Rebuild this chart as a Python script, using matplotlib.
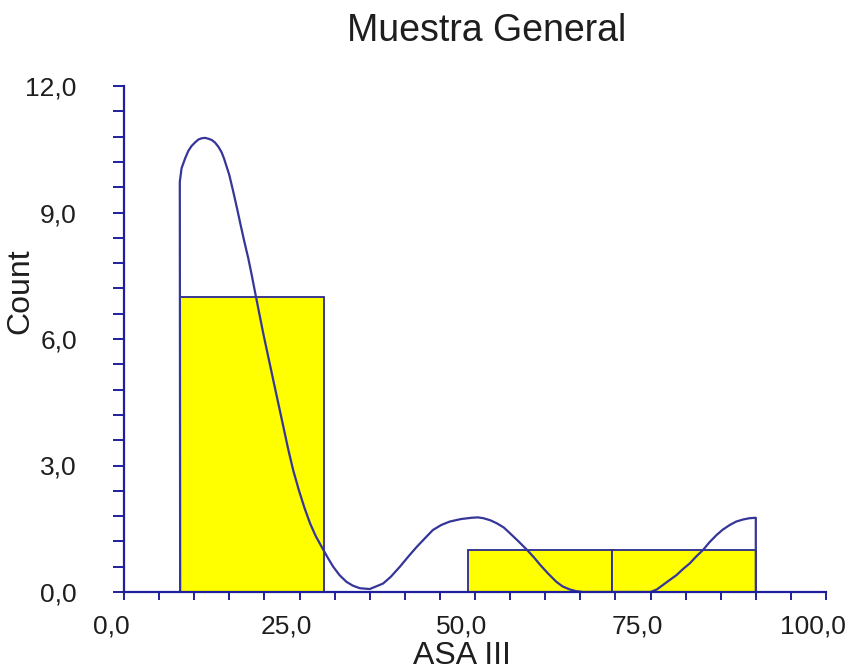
import numpy as np
import matplotlib
matplotlib.use("Agg")
import matplotlib.pyplot as plt
from matplotlib.ticker import MultipleLocator, FuncFormatter
from matplotlib.transforms import ScaledTranslation

plt.rcParams["font.family"] = ["Liberation Sans", "DejaVu Sans"]

# histogram bins (ASA III) and counts
bin_edges = [8.0, 28.5, 49.0, 69.5, 90.0]
counts = [7, 0, 1, 1]

# fitted curve drawn over the histogram (closed down to the axis at both ends)
curve_x = [8.0, 7.95, 8.2, 8.7, 9.16, 9.64, 10.11, 10.59, 11.06, 11.54, 12.01,
           12.49, 12.96, 13.44, 13.9, 14.25, 15.0, 15.57, 16.1, 16.62, 17.14,
           17.71, 18.19, 18.8, 19.84, 21.27, 22.7, 23.4, 24.1, 24.9, 25.7,
           26.5, 27.3, 28.16, 29.0, 29.8, 30.7, 31.7, 32.6, 33.6, 35.0, 36.9,
           38.0, 39.3, 40.5, 41.7, 42.9, 44.0, 45.2, 46.4, 48.0, 49.5, 50.4,
           51.2, 52.2, 53.1, 54.1, 55.0, 56.2, 57.4, 58.4, 59.3, 60.4, 61.6,
           62.5, 63.5, 64.4, 65.4, 75.0, 75.9, 76.8, 77.7, 78.7, 79.6, 80.6,
           81.5, 82.5, 83.4, 84.4, 85.3, 86.3, 87.2, 88.2, 89.1, 90.0, 90.0]
curve_y = [0.0, 9.73, 10.05, 10.28, 10.46, 10.58, 10.66, 10.73, 10.76, 10.77,
           10.75, 10.72, 10.66, 10.56, 10.43, 10.28, 9.89, 9.49, 9.10, 8.70,
           8.31, 7.91, 7.52, 7.0, 6.13, 5.02, 3.92, 3.38, 2.89, 2.42, 2.0,
           1.63, 1.33, 1.07, 0.82, 0.60, 0.40, 0.24, 0.15, 0.09, 0.07, 0.20,
           0.36, 0.60, 0.84, 1.07, 1.28, 1.47, 1.59, 1.67, 1.73, 1.76, 1.77,
           1.75, 1.70, 1.63, 1.53, 1.39, 1.20, 1.0, 0.82, 0.64, 0.44, 0.24,
           0.13, 0.06, 0.02, 0.0, 0.0, 0.06, 0.17, 0.28, 0.40, 0.54, 0.68,
           0.84, 1.0, 1.18, 1.35, 1.48, 1.59, 1.67, 1.72, 1.75, 1.76, 0.0]

axis_col = "#1f1f9c"
line_col = "#35359a"
text_col = "#1e1e1e"

fig = plt.figure(figsize=(8.48, 6.70), dpi=100)
ax = fig.add_axes([124 / 848, 1 - 592 / 670, 702 / 848, 506 / 670])

edges = np.array(bin_edges)
ax.bar(edges[:-1], counts, width=np.diff(edges), align="edge",
       color="#ffff00", edgecolor="#2a2a8e", linewidth=1.3, zorder=2)
ax.plot(curve_x, curve_y, color=line_col, linewidth=1.6, zorder=3,
        solid_joinstyle="round")

ax.set_xlim(0, 100)
ax.set_ylim(0, 12)

for side in ("top", "right"):
    ax.spines[side].set_visible(False)
for side in ("left", "bottom"):
    ax.spines[side].set_color(axis_col)
    ax.spines[side].set_linewidth(1.6)
    ax.spines[side].set_zorder(4)

comma = FuncFormatter(lambda v, pos: f"{v:.1f}".replace(".", ","))
ax.xaxis.set_major_locator(MultipleLocator(25))
ax.xaxis.set_minor_locator(MultipleLocator(5))
ax.yaxis.set_major_locator(MultipleLocator(3))
ax.yaxis.set_minor_locator(MultipleLocator(0.6))
ax.xaxis.set_major_formatter(comma)
ax.yaxis.set_major_formatter(comma)

ax.tick_params(axis="x", which="both", direction="out", length=6, width=1.4,
               color=axis_col, labelsize=19, labelcolor=text_col, pad=10)
ax.tick_params(axis="y", which="both", direction="out", length=8, width=1.4,
               color=axis_col, labelsize=19, labelcolor=text_col, pad=26)

# x labels sit a little to the left of their ticks
shift = ScaledTranslation(-13 / 100, 0, fig.dpi_scale_trans)
for lbl in ax.get_xticklabels():
    lbl.set_transform(lbl.get_transform() + shift)

ax.set_xlabel("ASA III", fontsize=23, color=text_col)
ax.xaxis.set_label_coords(0.481, -0.096)
ax.set_ylabel("Count", fontsize=23, color=text_col)
ax.yaxis.set_label_coords(-0.126, 0.595)

ax.set_title("Muestra General", fontsize=27, color=text_col,
             x=0.516, y=(592 - 41) / 506, pad=0)

fig.savefig("out.png", dpi=100)
